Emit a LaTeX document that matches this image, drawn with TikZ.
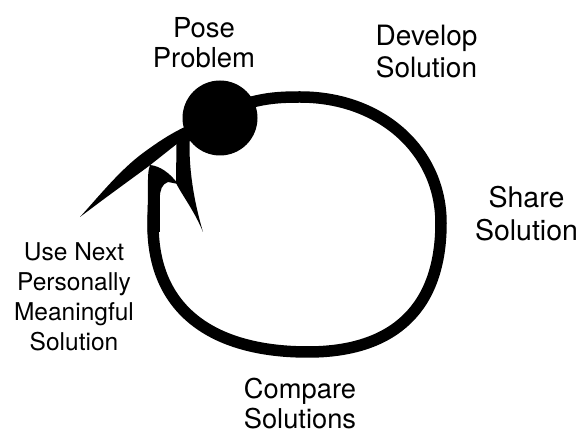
\documentclass[tikz,border=0pt]{standalone}
\usepackage{fontspec}
\setmainfont{TeX Gyre Heros}
\begin{document}
\begin{tikzpicture}[x=1pt,y=-1pt,
  lbl/.style={align=center, inner sep=0pt, anchor=north, text=black},
  ink/.style={fill=black},
  loopline/.style={draw=black, line width=11.5pt}]
\useasboundingbox (0,0) rectangle (582,435);
% dot
\node[circle, fill=black, minimum size=75pt, inner sep=0pt] (pose) at (220,118) {};
\coordinate (loopstart) at (245,104);
\coordinate (loopend) at (153.5,205);
% main loop
\draw[loopline] (loopstart) .. controls (265,98) and (280,97) .. (300,97)
  .. controls (382,97) and (441,152) .. (441,223)
  .. controls (441,307) and (395,352) .. (308,352)
  .. controls (210,352) and (153,308) .. (153,225) -- (loopend);
% hook end of the loop
\fill[ink] (147.5,232) -- (148,192) .. controls (147.8,178) and (148,170) .. (150,165)
  .. controls (160,166) and (170,173) .. (178,184)
  -- (168,182) .. controls (162,184) and (160,190) .. (159.8,198) -- (159.8,232) -- cycle;
% swoosh (left barb)
\fill[ink] (80,217) .. controls (100,195) and (120,170) .. (143,153)
  .. controls (158,142) and (174,131) .. (194,123) -- (198,140)
  -- (178,143) -- (149,166) .. controls (130,180) and (105,198) .. (80,217) -- cycle;
% spike (right barb)
\fill[ink] (176.5,142) -- (190,132) .. controls (188,160) and (192,195) .. (203,232)
  .. controls (195,212) and (182,195) .. (176,183) -- cycle;
% labels
\node[lbl, font=\fontsize{27.5}{30}\selectfont] (posetxt) at (204,17) {Pose\\Problem};
\node[lbl, font=\fontsize{28}{31.7}\selectfont] (develop) at (426.5,25) {Develop\\Solution};
\node[lbl, font=\fontsize{28.5}{33}\selectfont] (share) at (526.5,186) {Share\\Solution};
\node[lbl, font=\fontsize{24.5}{30}\selectfont] (usenext) at (74,242.4) {Use Next\\Personally\\Meaningful\\Solution};
\node[lbl, font=\fontsize{27.3}{30}\selectfont] (compare) at (300,378) {Compare\\Solutions};
\end{tikzpicture}
\end{document}
